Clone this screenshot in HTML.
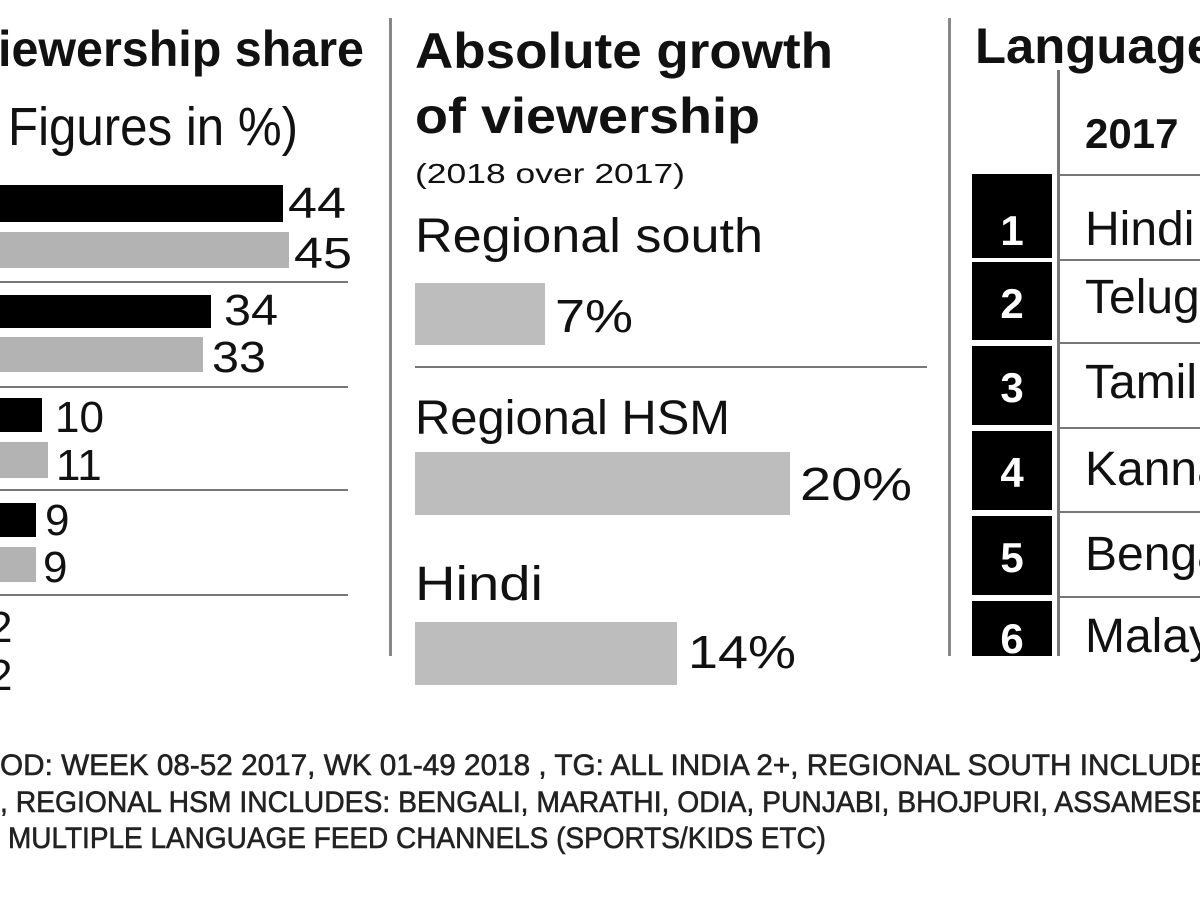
<!DOCTYPE html>
<html><head><style>body{margin:0;background:#fff}svg{display:block}</style></head><body>
<svg width="1200" height="900" viewBox="0 0 1200 900" xmlns="http://www.w3.org/2000/svg" font-family="Liberation Sans, sans-serif" fill="#111">
<rect width="1200" height="900" fill="#fff"/>
<!-- Left panel -->
<text x="-2" y="66" font-size="50" font-weight="bold" textLength="366" lengthAdjust="spacingAndGlyphs">iewership share</text>
<text x="8" y="145" font-size="54" textLength="290" lengthAdjust="spacingAndGlyphs">Figures in %)</text>
<rect x="0" y="185" width="283" height="37" fill="#000"/>
<rect x="0" y="232" width="289" height="36" fill="#b3b3b3"/>
<text x="288" y="218" font-size="44" textLength="58" lengthAdjust="spacingAndGlyphs">44</text>
<text x="294" y="268" font-size="44" textLength="58" lengthAdjust="spacingAndGlyphs">45</text>
<rect x="0" y="281" width="348" height="2" fill="#777"/>
<rect x="0" y="295" width="211" height="33" fill="#000"/>
<rect x="0" y="337" width="203" height="35" fill="#b3b3b3"/>
<text x="224" y="325" font-size="44" textLength="54" lengthAdjust="spacingAndGlyphs">34</text>
<text x="212" y="372" font-size="44" textLength="54" lengthAdjust="spacingAndGlyphs">33</text>
<rect x="0" y="386" width="348" height="2" fill="#777"/>
<rect x="0" y="398" width="42" height="34" fill="#000"/>
<rect x="0" y="442" width="48" height="36" fill="#b3b3b3"/>
<text x="55" y="432" font-size="44">10</text>
<text x="56" y="480" font-size="44">11</text>
<rect x="0" y="489" width="348" height="2" fill="#777"/>
<rect x="0" y="503" width="36" height="34" fill="#000"/>
<rect x="0" y="547" width="36" height="35" fill="#b3b3b3"/>
<text x="45" y="535" font-size="44">9</text>
<text x="43" y="582" font-size="44">9</text>
<rect x="0" y="594" width="348" height="2" fill="#777"/>
<text x="-12" y="642" font-size="44">2</text>
<text x="-12" y="690" font-size="44">2</text>
<rect x="389" y="18" width="3" height="638" fill="#888"/>
<!-- Middle panel -->
<text x="415" y="68" font-size="50" font-weight="bold" textLength="418" lengthAdjust="spacingAndGlyphs">Absolute growth</text>
<text x="415" y="133" font-size="50" font-weight="bold" textLength="345" lengthAdjust="spacingAndGlyphs">of viewership</text>
<text x="415" y="183" font-size="28" textLength="270" lengthAdjust="spacingAndGlyphs">(2018 over 2017)</text>
<text x="415" y="252" font-size="48" textLength="348" lengthAdjust="spacingAndGlyphs">Regional south</text>
<rect x="415" y="283" width="130" height="62" fill="#bdbdbd"/>
<text x="555" y="332" font-size="46" textLength="78" lengthAdjust="spacingAndGlyphs">7%</text>
<rect x="415" y="366" width="512" height="2" fill="#777"/>
<text x="415" y="434" font-size="48" textLength="315" lengthAdjust="spacingAndGlyphs">Regional HSM</text>
<rect x="415" y="452" width="375" height="63" fill="#bdbdbd"/>
<text x="800" y="500" font-size="46" textLength="112" lengthAdjust="spacingAndGlyphs">20%</text>
<text x="415" y="600" font-size="48" textLength="128" lengthAdjust="spacingAndGlyphs">Hindi</text>
<rect x="415" y="622" width="262" height="63" fill="#bdbdbd"/>
<text x="688" y="668" font-size="46" textLength="108" lengthAdjust="spacingAndGlyphs">14%</text>
<rect x="948" y="18" width="3" height="638" fill="#888"/>
<!-- Right panel -->
<text x="975" y="63" font-size="50" font-weight="bold" textLength="240" lengthAdjust="spacingAndGlyphs">Language</text>
<rect x="1057" y="70" width="3" height="586" fill="#777"/>
<text x="1085" y="148" font-size="42" font-weight="bold">2017</text>
<g fill="#000">
<rect x="972" y="174" width="80" height="84"/>
<rect x="972" y="262" width="80" height="78"/>
<rect x="972" y="346" width="80" height="79"/>
<rect x="972" y="431" width="80" height="79"/>
<rect x="972" y="516" width="80" height="79"/>
<rect x="972" y="601" width="80" height="55"/>
</g>
<g fill="#777">
<rect x="1058" y="174" width="142" height="2"/>
<rect x="1058" y="259" width="142" height="2"/>
<rect x="1058" y="342" width="142" height="2"/>
<rect x="1058" y="427" width="142" height="2"/>
<rect x="1058" y="511" width="142" height="2"/>
<rect x="1058" y="596" width="142" height="2"/>
</g>
<g fill="#fff" font-size="42" font-weight="bold" text-anchor="middle">
<text x="1012" y="245">1</text>
<text x="1012" y="318">2</text>
<text x="1012" y="402">3</text>
<text x="1012" y="487">4</text>
<text x="1012" y="572">5</text>
<text x="1012" y="653">6</text>
</g>
<g font-size="48">
<text x="1085" y="245">Hindi</text>
<text x="1085" y="313">Telugu</text>
<text x="1085" y="398">Tamil</text>
<text x="1085" y="485">Kannada</text>
<text x="1085" y="570">Bengali</text>
<text x="1085" y="652">Malayalam</text>
</g>
<!-- Footnote -->
<g font-size="30" fill="#222" stroke="#222" stroke-width="0.6">
<text x="0" y="775" textLength="1230" lengthAdjust="spacingAndGlyphs">OD: WEEK 08-52 2017, WK 01-49 2018 , TG: ALL INDIA 2+, REGIONAL SOUTH INCLUDES</text>
<text x="0" y="812" textLength="1210" lengthAdjust="spacingAndGlyphs">, REGIONAL HSM INCLUDES: BENGALI, MARATHI, ODIA, PUNJABI, BHOJPURI, ASSAMESE</text>
<text x="8" y="848" textLength="818" lengthAdjust="spacingAndGlyphs">MULTIPLE LANGUAGE FEED CHANNELS (SPORTS/KIDS ETC)</text>
</g>
</svg>
</body></html>
